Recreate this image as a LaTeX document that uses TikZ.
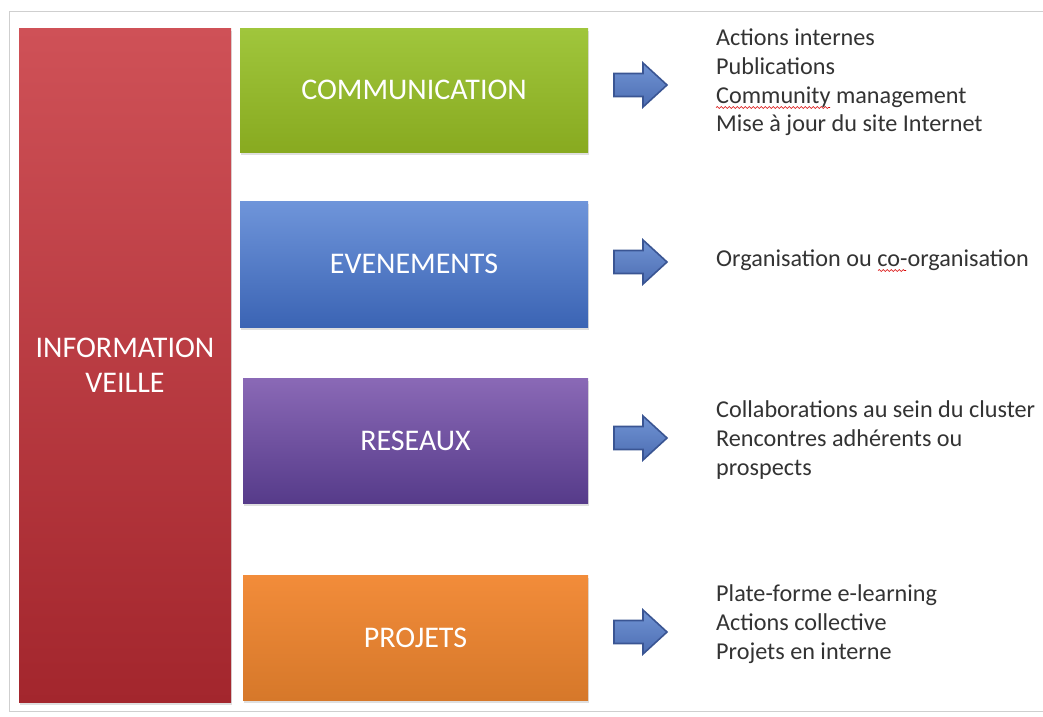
\documentclass[tikz,border=0pt]{standalone}
\usepackage{fontspec}
\setmainfont{Carlito}
\usetikzlibrary{shadows,decorations.pathmorphing}
\definecolor{redT}{HTML}{CF5157}
\definecolor{redB}{HTML}{A3262D}
\definecolor{grnT}{HTML}{A0C63C}
\definecolor{grnB}{HTML}{88AA20}
\definecolor{bluT}{HTML}{6F95DA}
\definecolor{bluB}{HTML}{3B64B4}
\definecolor{purT}{HTML}{8A69B6}
\definecolor{purB}{HTML}{563B8A}
\definecolor{orgT}{HTML}{F28C3A}
\definecolor{orgB}{HTML}{D6782A}
\definecolor{arrT}{HTML}{7093D3}
\definecolor{arrB}{HTML}{4D6EB3}
\definecolor{arrD}{HTML}{3A5593}
\definecolor{txt}{HTML}{333333}
\definecolor{frame}{HTML}{CFCFCF}
\tikzset{
  box/.style={rectangle, inner sep=0pt, text=white, align=center,
    font=\fontsize{30}{35}\selectfont,
    drop shadow={shadow xshift=1pt, shadow yshift=-2.5pt, opacity=0.25}},
  item/.style={anchor=base west, inner sep=0pt, text=txt, font=\fontsize{24.2}{29}\selectfont},
  blockarrow/.pic={\draw[line width=1.6pt, draw=arrD, top color=arrT, bottom color=arrB, line join=miter]
      (-26.5,-11.5) -- (2.5,-11.5) -- (2.5,-22) -- (26.5,0) -- (2.5,22) -- (2.5,11.5) -- (-26.5,11.5) -- cycle;},
  spell/.style={draw=red!85!black, line width=0.6pt, decorate,
    decoration={snake, amplitude=0.9pt, segment length=4pt}}
}
\begin{document}
\begin{tikzpicture}[x=1pt,y=-1pt]
\useasboundingbox (0,0) rectangle (1043,716);
\fill[white] (0,0) rectangle (1043,716);
\draw[frame, line width=0.8pt] (1043,11) -- (9,11) -- (9,711) -- (1043,711);

\node[box, top color=redT, bottom color=redB, minimum width=212pt, minimum height=674pt] (info) at (125,365) {INFORMATION\\VEILLE};
\node[box, top color=grnT, bottom color=grnB, minimum width=348pt, minimum height=124pt] (comm) at (414,90) {COMMUNICATION};
\node[box, top color=bluT, bottom color=bluB, minimum width=348pt, minimum height=126pt] (even) at (414,264) {EVENEMENTS};
\node[box, top color=purT, bottom color=purB, minimum width=345pt, minimum height=125pt] (rese) at (415.5,440.5) {RESEAUX};
\node[box, top color=orgT, bottom color=orgB, minimum width=345pt, minimum height=125pt] (proj) at (415.5,637.5) {PROJETS};

\pic at (640.5,85) {blockarrow};
\pic at (640.5,262) {blockarrow};
\pic at (640.5,438) {blockarrow};
\pic at (640.5,632) {blockarrow};

\node[item] (c1) at (716,45) {Actions internes};
\node[item] (c2) at (716,74) {Publications};
\node[item] (c3) at (716,103) {Community management};
\node[item] (c4) at (716,131) {Mise à jour du site Internet};

\node[item] (e1) at (716,266) {Organisation ou co-organisation};

\node[item] (r1) at (716,417) {Collaborations au sein du cluster};
\node[item] (r2) at (716,446) {Rencontres adhérents ou};
\node[item] (r3) at (716,475) {prospects};

\node[item] (p1) at (716,601) {Plate-forme e-learning};
\node[item] (p2) at (716,630) {Actions collective};
\node[item] (p3) at (716,659) {Projets en interne};

\draw[spell] (716,107.5) -- (830,107.5);
\draw[spell] (878,270.5) -- (906,270.5);
\end{tikzpicture}
\end{document}
